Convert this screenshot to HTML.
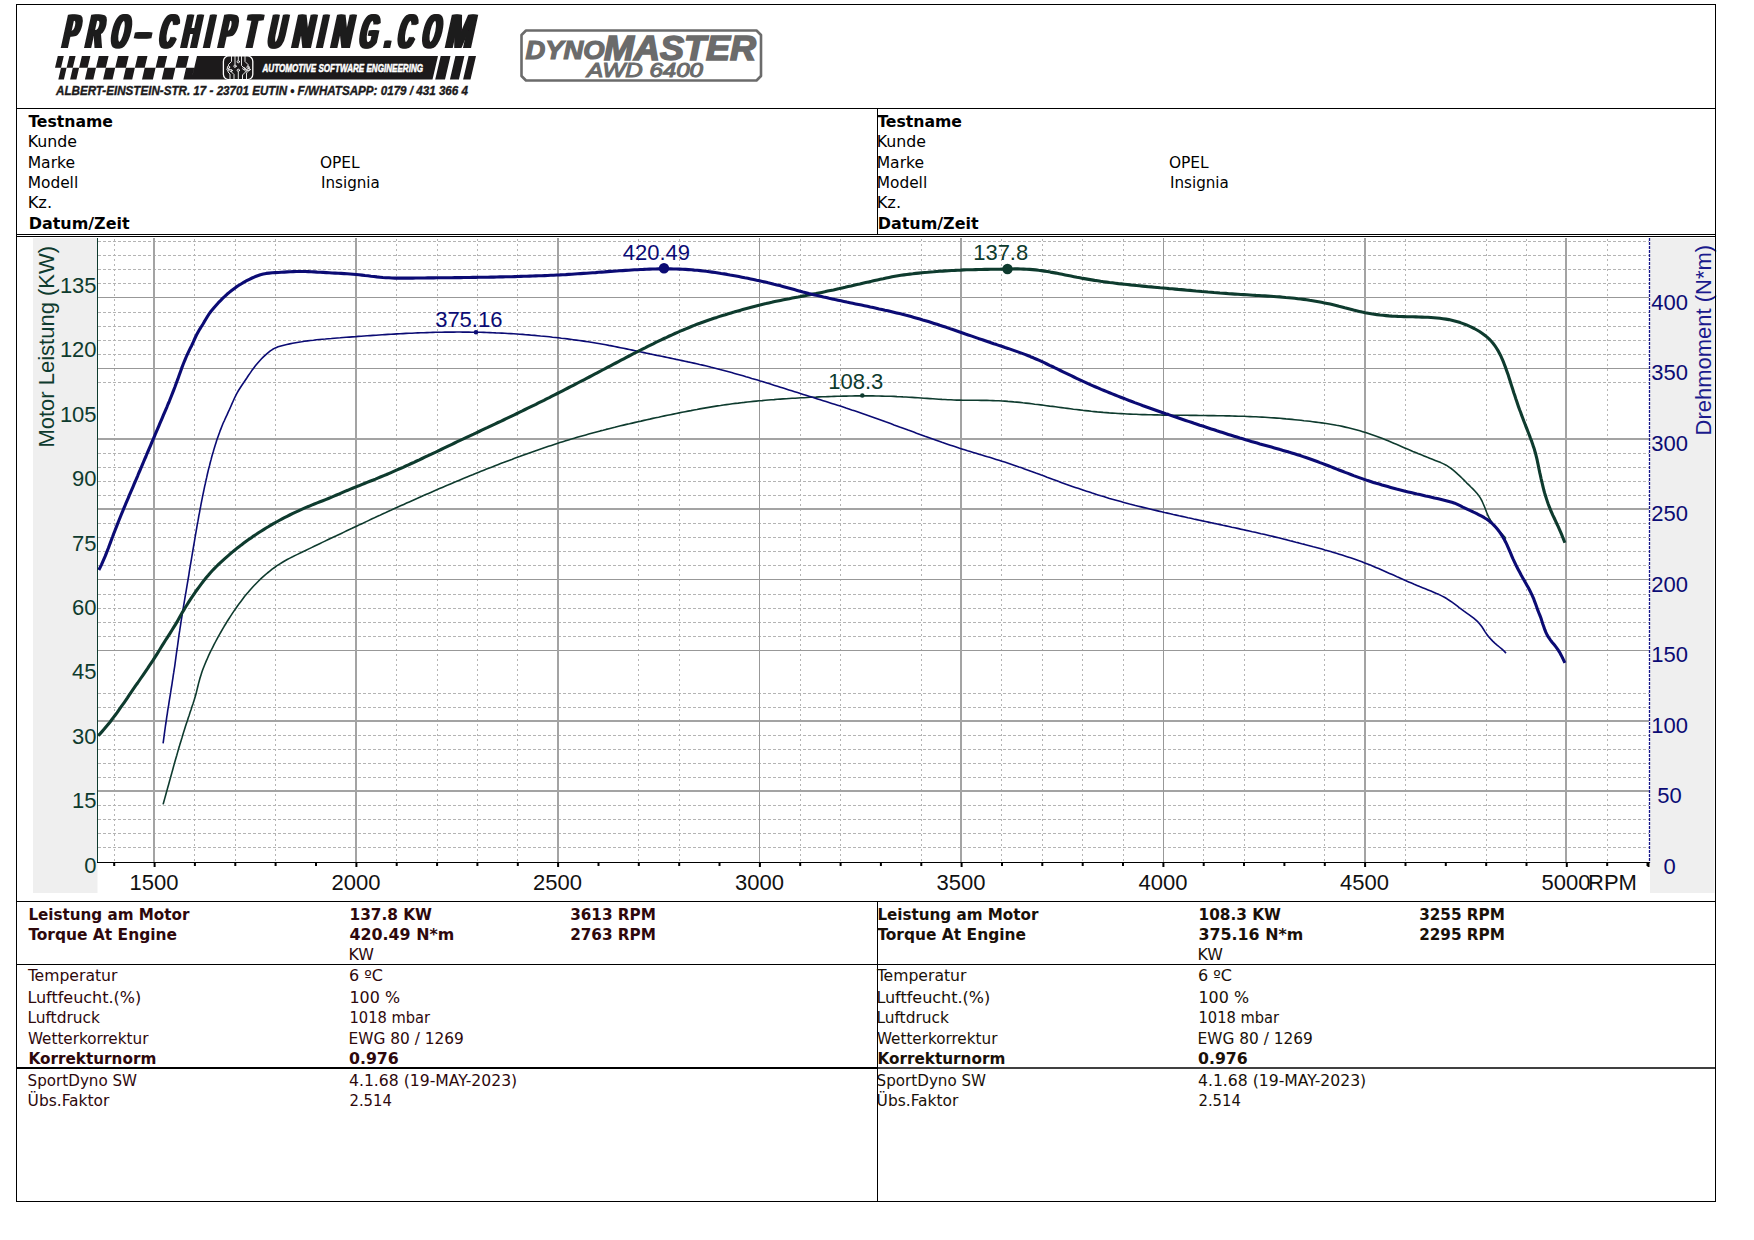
<!DOCTYPE html>
<html lang="de"><head><meta charset="utf-8"><title>Dyno Report</title>
<style>html,body{margin:0;padding:0;background:#fff}svg{display:block}.t{font-family:"DejaVu Sans Condensed","DejaVu Sans","Liberation Sans",sans-serif;font-size:15.5px}.b{font-weight:bold}.a{font-family:"Liberation Sans","DejaVu Sans",sans-serif}</style></head><body>
<svg width="1754" height="1240" viewBox="0 0 1754 1240">
<rect x="0" y="0" width="1754" height="1240" fill="#fff"/>
<g id="chart">
<rect x="33" y="238" width="64.5" height="655" fill="#efefef"/>
<rect x="1650" y="238" width="64.5" height="655" fill="#efefef"/>
<path d="M98.0 847.5H1648.5M98.0 833.5H1648.5M98.0 819.5H1648.5M98.0 805.5H1648.5M98.0 777.5H1648.5M98.0 763.5H1648.5M98.0 749.5H1648.5M98.0 735.5H1648.5M98.0 707.5H1648.5M98.0 693.5H1648.5M98.0 636.5H1648.5M98.0 622.5H1648.5M98.0 608.5H1648.5M98.0 594.5H1648.5M98.0 565.5H1648.5M98.0 551.5H1648.5M98.0 537.5H1648.5M98.0 523.5H1648.5M98.0 495.5H1648.5M98.0 481.5H1648.5M98.0 467.5H1648.5M98.0 453.5H1648.5M98.0 382.5H1648.5M98.0 354.5H1648.5M98.0 340.5H1648.5M98.0 326.5H1648.5M98.0 312.5H1648.5M98.0 283.5H1648.5M98.0 269.5H1648.5M98.0 255.5H1648.5M98.0 241.5H1648.5" stroke="#b4b4b4" stroke-width="1" stroke-dasharray="3 2" fill="none" shape-rendering="crispEdges"/>
<path d="M114.5 239.0V862.5M194.5 239.0V862.5M235.5 239.0V862.5M275.5 239.0V862.5M396.5 239.0V862.5M437.5 239.0V862.5M477.5 239.0V862.5M517.5 239.0V862.5M638.5 239.0V862.5M679.5 239.0V862.5M800.5 239.0V862.5M840.5 239.0V862.5M921.5 239.0V862.5M1001.5 239.0V862.5M1042.5 239.0V862.5M1082.5 239.0V862.5M1123.5 239.0V862.5M1203.5 239.0V862.5M1244.5 239.0V862.5M1324.5 239.0V862.5M1405.5 239.0V862.5M1486.5 239.0V862.5M1526.5 239.0V862.5M1607.5 239.0V862.5" stroke="#b4b4b4" stroke-width="1" stroke-dasharray="2 3" fill="none" shape-rendering="crispEdges"/>
<path d="M98.0 791.0H1648.5" stroke="#a3a3a3" stroke-width="2" fill="none" shape-rendering="crispEdges"/>
<path d="M98.0 721.0H1648.5" stroke="#a3a3a3" stroke-width="2" fill="none" shape-rendering="crispEdges"/>
<path d="M98.0 650.5H1648.5" stroke="#989898" stroke-width="1" fill="none" shape-rendering="crispEdges"/>
<path d="M98.0 579.5H1648.5" stroke="#989898" stroke-width="1" fill="none" shape-rendering="crispEdges"/>
<path d="M98.0 509.0H1648.5" stroke="#a3a3a3" stroke-width="2" fill="none" shape-rendering="crispEdges"/>
<path d="M98.0 439.0H1648.5" stroke="#a3a3a3" stroke-width="2" fill="none" shape-rendering="crispEdges"/>
<path d="M98.0 368.5H1648.5" stroke="#989898" stroke-width="1" fill="none" shape-rendering="crispEdges"/>
<path d="M98.0 297.5H1648.5" stroke="#989898" stroke-width="1" fill="none" shape-rendering="crispEdges"/>
<path d="M154.0 238.0V862.5" stroke="#a3a3a3" stroke-width="2" fill="none" shape-rendering="crispEdges"/>
<path d="M356.0 238.0V862.5" stroke="#a3a3a3" stroke-width="2" fill="none" shape-rendering="crispEdges"/>
<path d="M558.0 238.0V862.5" stroke="#a3a3a3" stroke-width="2" fill="none" shape-rendering="crispEdges"/>
<path d="M759.5 238.0V862.5" stroke="#989898" stroke-width="1" fill="none" shape-rendering="crispEdges"/>
<path d="M961.0 238.0V862.5" stroke="#a3a3a3" stroke-width="2" fill="none" shape-rendering="crispEdges"/>
<path d="M1163.5 238.0V862.5" stroke="#989898" stroke-width="1" fill="none" shape-rendering="crispEdges"/>
<path d="M1365.0 238.0V862.5" stroke="#a3a3a3" stroke-width="2" fill="none" shape-rendering="crispEdges"/>
<path d="M1566.0 238.0V862.5" stroke="#a3a3a3" stroke-width="2" fill="none" shape-rendering="crispEdges"/>
<path d="M163.1 804.4 L163.9 801.5 L164.7 798.6 L165.5 795.7 L166.3 792.8 L167.1 789.9 L167.9 787.0 L168.7 784.2 L169.5 781.3 L170.3 778.4 L171.1 775.5 L171.9 772.6 L172.7 769.7 L173.5 766.8 L174.3 763.9 L175.1 761.0 L175.9 758.2 L176.8 755.3 L177.6 752.4 L178.4 749.5 L179.3 746.6 L180.1 743.8 L181.0 740.9 L181.9 738.0 L182.7 735.2 L183.6 732.3 L184.5 729.4 L185.4 726.6 L186.3 723.7 L187.3 720.9 L188.2 718.0 L189.2 715.2 L190.1 712.3 L191.1 709.5 L192.0 706.6 L193.0 703.8 L193.9 700.9 L194.8 698.1 L195.6 695.2 L196.4 692.3 L197.1 689.4 L197.8 686.5 L198.5 683.6 L199.3 680.7 L200.1 677.8 L201.0 674.9 L201.9 672.1 L202.9 669.3 L204.0 666.5 L205.1 663.7 L206.3 660.9 L207.5 658.2 L208.7 655.4 L210.0 652.7 L211.3 650.0 L212.7 647.3 L214.0 644.7 L215.4 642.0 L216.8 639.4 L218.3 636.7 L219.7 634.1 L221.2 631.5 L222.7 628.9 L224.2 626.3 L225.8 623.8 L227.3 621.2 L228.9 618.7 L230.6 616.1 L232.2 613.6 L233.9 611.1 L235.6 608.7 L237.3 606.2 L239.1 603.8 L240.9 601.4 L242.7 599.0 L244.5 596.6 L246.4 594.3 L248.4 592.0 L250.3 589.7 L252.3 587.5 L254.4 585.3 L256.4 583.2 L258.6 581.0 L260.7 578.9 L262.9 576.9 L265.2 574.9 L267.4 573.0 L269.8 571.1 L272.1 569.2 L274.6 567.5 L277.0 565.7 L279.5 564.1 L282.1 562.5 L284.6 561.0 L287.2 559.5 L289.9 558.1 L292.6 556.8 L295.3 555.4 L298.0 554.1 L300.7 552.8 L303.4 551.5 L306.1 550.2 L308.8 548.9 L311.5 547.6 L314.2 546.3 L316.9 545.0 L319.6 543.7 L322.3 542.4 L325.0 541.1 L327.7 539.8 L330.4 538.5 L333.1 537.2 L335.8 536.0 L338.5 534.7 L341.3 533.4 L344.0 532.1 L346.7 530.8 L349.4 529.5 L352.1 528.3 L354.8 527.0 L357.5 525.7 L360.2 524.4 L363.0 523.2 L365.7 521.9 L368.4 520.6 L371.1 519.3 L373.8 518.1 L376.5 516.8 L379.3 515.6 L382.0 514.3 L384.7 513.1 L387.4 511.8 L390.2 510.6 L392.9 509.3 L395.6 508.1 L398.4 506.8 L401.1 505.6 L403.8 504.4 L406.6 503.1 L409.3 501.9 L412.0 500.7 L414.8 499.4 L417.5 498.2 L420.3 497.0 L423.0 495.8 L425.8 494.6 L428.5 493.4 L431.3 492.2 L434.0 491.0 L436.8 489.8 L439.5 488.6 L442.3 487.4 L445.0 486.2 L447.8 485.1 L450.5 483.9 L453.3 482.7 L456.1 481.6 L458.8 480.4 L461.6 479.2 L464.4 478.1 L467.1 476.9 L469.9 475.8 L472.7 474.7 L475.5 473.5 L478.2 472.4 L481.0 471.3 L483.8 470.2 L486.6 469.1 L489.4 468.0 L492.2 466.9 L495.0 465.8 L497.8 464.7 L500.6 463.6 L503.4 462.6 L506.2 461.5 L509.0 460.4 L511.8 459.4 L514.6 458.3 L517.4 457.3 L520.2 456.3 L523.0 455.2 L525.9 454.2 L528.7 453.2 L531.5 452.2 L534.3 451.2 L537.2 450.2 L540.0 449.2 L542.8 448.3 L545.7 447.3 L548.5 446.3 L551.4 445.4 L554.2 444.5 L557.1 443.5 L559.9 442.6 L562.8 441.7 L565.7 440.8 L568.5 439.9 L571.4 439.1 L574.3 438.2 L577.1 437.3 L580.0 436.5 L582.9 435.7 L585.8 434.9 L588.7 434.1 L591.6 433.3 L594.5 432.5 L597.4 431.7 L600.3 430.9 L603.2 430.2 L606.1 429.4 L609.0 428.7 L611.9 428.0 L614.8 427.3 L617.7 426.5 L620.6 425.8 L623.5 425.1 L626.4 424.4 L629.4 423.8 L632.3 423.1 L635.2 422.4 L638.1 421.7 L641.1 421.1 L644.0 420.4 L646.9 419.7 L649.8 419.1 L652.8 418.4 L655.7 417.8 L658.6 417.2 L661.6 416.5 L664.5 415.9 L667.4 415.3 L670.4 414.7 L673.3 414.1 L676.2 413.5 L679.2 412.9 L682.1 412.3 L685.1 411.7 L688.0 411.1 L691.0 410.6 L693.9 410.0 L696.9 409.5 L699.8 408.9 L702.8 408.4 L705.7 407.9 L708.7 407.4 L711.6 406.9 L714.6 406.4 L717.5 405.9 L720.5 405.5 L723.5 405.0 L726.4 404.6 L729.4 404.2 L732.4 403.8 L735.4 403.4 L738.3 403.1 L741.3 402.7 L744.3 402.4 L747.3 402.0 L750.2 401.7 L753.2 401.4 L756.2 401.1 L759.2 400.8 L762.2 400.6 L765.2 400.3 L768.2 400.0 L771.2 399.8 L774.1 399.6 L777.1 399.3 L780.1 399.1 L783.1 398.9 L786.1 398.7 L789.1 398.5 L792.1 398.3 L795.1 398.2 L798.1 398.0 L801.1 397.8 L804.1 397.7 L807.1 397.5 L810.1 397.3 L813.1 397.2 L816.1 397.1 L819.1 396.9 L822.1 396.8 L825.1 396.7 L828.1 396.6 L831.1 396.5 L834.1 396.4 L837.1 396.3 L840.1 396.2 L843.1 396.1 L846.1 396.1 L849.1 396.0 L852.0 396.0 L855.0 395.9 L858.0 395.9 L861.0 395.9 L864.0 395.9 L867.0 395.9 L870.0 395.9 L873.0 395.9 L876.0 396.0 L879.0 396.0 L882.0 396.1 L885.0 396.2 L888.0 396.2 L891.0 396.3 L894.0 396.4 L897.0 396.6 L900.0 396.7 L903.0 396.9 L906.0 397.0 L909.0 397.2 L912.0 397.4 L915.0 397.6 L918.0 397.8 L921.0 398.0 L924.0 398.2 L927.0 398.4 L929.9 398.6 L932.9 398.8 L935.9 399.0 L938.9 399.2 L941.9 399.4 L944.9 399.5 L947.9 399.7 L950.9 399.8 L953.9 400.0 L956.9 400.1 L959.9 400.1 L962.9 400.2 L965.9 400.2 L968.9 400.3 L971.9 400.3 L974.9 400.3 L977.9 400.3 L980.9 400.4 L983.9 400.4 L986.9 400.4 L989.9 400.5 L992.9 400.6 L995.9 400.7 L998.9 400.8 L1001.9 401.0 L1004.9 401.1 L1007.9 401.4 L1010.8 401.6 L1013.8 401.9 L1016.8 402.1 L1019.8 402.4 L1022.8 402.8 L1025.8 403.1 L1028.8 403.4 L1031.7 403.8 L1034.7 404.2 L1037.7 404.5 L1040.7 404.9 L1043.6 405.3 L1046.6 405.7 L1049.6 406.1 L1052.6 406.4 L1055.5 406.8 L1058.5 407.2 L1061.5 407.6 L1064.4 408.0 L1067.4 408.4 L1070.4 408.8 L1073.4 409.2 L1076.4 409.5 L1079.3 409.9 L1082.3 410.3 L1085.3 410.6 L1088.3 410.9 L1091.3 411.3 L1094.2 411.6 L1097.2 411.9 L1100.2 412.1 L1103.2 412.4 L1106.2 412.6 L1109.2 412.9 L1112.2 413.1 L1115.2 413.3 L1118.1 413.5 L1121.1 413.6 L1124.1 413.8 L1127.1 414.0 L1130.1 414.1 L1133.1 414.2 L1136.1 414.3 L1139.1 414.5 L1142.1 414.6 L1145.1 414.6 L1148.1 414.7 L1151.1 414.8 L1154.1 414.9 L1157.1 414.9 L1160.1 415.0 L1163.1 415.1 L1166.1 415.1 L1169.1 415.1 L1172.1 415.2 L1175.1 415.2 L1178.1 415.3 L1181.1 415.3 L1184.1 415.3 L1187.1 415.3 L1190.1 415.4 L1193.1 415.4 L1196.1 415.4 L1199.1 415.5 L1202.1 415.5 L1205.1 415.5 L1208.1 415.6 L1211.1 415.6 L1214.1 415.6 L1217.1 415.7 L1220.1 415.7 L1223.1 415.8 L1226.1 415.9 L1229.1 415.9 L1232.1 416.0 L1235.1 416.1 L1238.1 416.2 L1241.1 416.2 L1244.1 416.3 L1247.1 416.5 L1250.1 416.6 L1253.1 416.7 L1256.0 416.8 L1259.0 417.0 L1262.0 417.1 L1265.0 417.3 L1268.0 417.5 L1271.0 417.7 L1274.0 417.9 L1277.0 418.1 L1280.0 418.3 L1283.0 418.6 L1286.0 418.9 L1289.0 419.1 L1292.0 419.4 L1294.9 419.7 L1297.9 420.0 L1300.9 420.3 L1303.9 420.7 L1306.9 421.0 L1309.9 421.3 L1312.8 421.7 L1315.8 422.1 L1318.8 422.5 L1321.7 422.9 L1324.7 423.3 L1327.7 423.7 L1330.6 424.2 L1333.6 424.7 L1336.5 425.3 L1339.5 425.8 L1342.4 426.4 L1345.3 427.1 L1348.3 427.8 L1351.2 428.5 L1354.1 429.2 L1357.0 430.0 L1359.9 430.8 L1362.7 431.7 L1365.6 432.6 L1368.5 433.5 L1371.3 434.4 L1374.2 435.4 L1377.0 436.4 L1379.8 437.5 L1382.6 438.6 L1385.4 439.7 L1388.1 440.8 L1390.9 442.0 L1393.7 443.2 L1396.4 444.3 L1399.2 445.5 L1401.9 446.7 L1404.7 447.9 L1407.4 449.1 L1410.2 450.2 L1412.9 451.4 L1415.7 452.5 L1418.5 453.7 L1421.3 454.8 L1424.0 455.9 L1426.8 457.1 L1429.6 458.2 L1432.4 459.3 L1435.2 460.4 L1438.0 461.5 L1440.8 462.6 L1443.5 463.9 L1446.2 465.2 L1448.7 466.8 L1451.2 468.5 L1453.5 470.3 L1455.8 472.3 L1458.0 474.4 L1460.2 476.4 L1462.4 478.5 L1464.5 480.6 L1466.6 482.8 L1468.8 484.9 L1470.9 487.0 L1473.1 489.1 L1475.1 491.3 L1477.1 493.6 L1479.0 495.9 L1480.6 498.4 L1482.0 501.0 L1483.2 503.7 L1484.4 506.5 L1485.5 509.3 L1486.6 512.2 L1487.7 514.9 L1489.0 517.6 L1490.5 520.2 L1492.1 522.7 L1493.9 525.1 L1495.9 527.4 L1497.9 529.7 L1499.9 531.9 L1502.0 534.1 L1504.0 536.3 L1506.0 538.5" stroke="#0e3b2e" stroke-width="1.6" fill="none" stroke-linejoin="round"/>
<path d="M163.1 743.3 L163.5 740.3 L163.9 737.4 L164.3 734.4 L164.7 731.4 L165.1 728.5 L165.5 725.5 L166.0 722.5 L166.4 719.6 L166.8 716.6 L167.3 713.6 L167.7 710.7 L168.2 707.7 L168.7 704.8 L169.1 701.8 L169.6 698.9 L170.1 695.9 L170.6 692.9 L171.0 690.0 L171.5 687.0 L172.0 684.1 L172.4 681.1 L172.9 678.1 L173.3 675.2 L173.8 672.2 L174.2 669.3 L174.7 666.3 L175.1 663.3 L175.5 660.4 L175.9 657.4 L176.3 654.4 L176.7 651.5 L177.2 648.5 L177.6 645.5 L178.0 642.6 L178.4 639.6 L178.8 636.6 L179.2 633.7 L179.7 630.7 L180.1 627.8 L180.6 624.8 L181.0 621.8 L181.5 618.9 L182.0 615.9 L182.4 613.0 L182.9 610.0 L183.4 607.1 L183.9 604.1 L184.4 601.2 L184.9 598.2 L185.4 595.2 L185.9 592.3 L186.4 589.3 L186.9 586.4 L187.4 583.4 L187.9 580.5 L188.4 577.5 L188.9 574.6 L189.3 571.6 L189.8 568.7 L190.3 565.7 L190.8 562.8 L191.3 559.8 L191.8 556.8 L192.3 553.9 L192.8 550.9 L193.3 548.0 L193.8 545.0 L194.3 542.1 L194.8 539.1 L195.3 536.2 L195.8 533.2 L196.3 530.3 L196.8 527.3 L197.3 524.4 L197.9 521.4 L198.4 518.5 L198.9 515.5 L199.5 512.6 L200.0 509.6 L200.6 506.7 L201.1 503.8 L201.7 500.8 L202.3 497.9 L202.9 494.9 L203.5 492.0 L204.1 489.1 L204.7 486.1 L205.4 483.2 L206.0 480.3 L206.7 477.4 L207.3 474.5 L208.0 471.5 L208.7 468.6 L209.5 465.7 L210.2 462.8 L211.0 459.9 L211.7 457.0 L212.5 454.2 L213.4 451.3 L214.2 448.4 L215.1 445.5 L216.0 442.7 L216.9 439.8 L217.9 437.0 L218.9 434.2 L219.9 431.4 L221.0 428.6 L222.1 425.8 L223.2 423.0 L224.5 420.3 L225.7 417.6 L227.0 414.9 L228.2 412.1 L229.5 409.4 L230.7 406.7 L231.9 403.9 L233.1 401.2 L234.3 398.5 L235.6 395.8 L237.0 393.1 L238.5 390.5 L240.1 388.0 L241.7 385.5 L243.4 383.0 L245.1 380.5 L246.8 378.0 L248.4 375.5 L250.1 373.1 L251.8 370.6 L253.6 368.2 L255.4 365.8 L257.3 363.5 L259.3 361.2 L261.3 359.0 L263.4 356.9 L265.6 354.8 L267.9 352.8 L270.3 350.9 L272.7 349.3 L275.4 347.9 L278.1 346.8 L280.9 346.0 L283.8 345.2 L286.8 344.5 L289.7 343.9 L292.6 343.3 L295.6 342.7 L298.6 342.2 L301.5 341.8 L304.5 341.3 L307.5 340.9 L310.4 340.5 L313.4 340.2 L316.4 339.8 L319.4 339.5 L322.4 339.2 L325.3 339.0 L328.3 338.7 L331.3 338.5 L334.3 338.2 L337.3 338.0 L340.2 337.8 L343.2 337.5 L346.2 337.3 L349.2 337.1 L352.2 336.9 L355.2 336.7 L358.1 336.4 L361.1 336.2 L364.1 336.0 L367.1 335.8 L370.1 335.6 L373.1 335.4 L376.1 335.2 L379.1 335.0 L382.1 334.8 L385.0 334.6 L388.0 334.4 L391.0 334.3 L394.0 334.1 L397.0 333.9 L400.0 333.8 L403.0 333.6 L406.0 333.4 L409.0 333.3 L412.0 333.2 L415.0 333.0 L417.9 332.9 L420.9 332.8 L423.9 332.7 L426.9 332.6 L429.9 332.5 L432.9 332.4 L435.9 332.3 L438.9 332.3 L441.9 332.2 L444.9 332.1 L447.9 332.1 L450.9 332.1 L453.9 332.1 L456.9 332.0 L459.9 332.0 L462.9 332.1 L465.9 332.1 L468.8 332.1 L471.8 332.2 L474.8 332.2 L477.8 332.3 L480.8 332.3 L483.8 332.4 L486.8 332.5 L489.8 332.6 L492.8 332.7 L495.8 332.9 L498.8 333.0 L501.8 333.1 L504.8 333.3 L507.7 333.5 L510.7 333.6 L513.7 333.8 L516.7 334.0 L519.7 334.2 L522.7 334.4 L525.7 334.7 L528.7 334.9 L531.6 335.2 L534.6 335.4 L537.6 335.7 L540.6 336.0 L543.6 336.2 L546.6 336.5 L549.5 336.8 L552.5 337.2 L555.5 337.5 L558.5 337.8 L561.4 338.2 L564.4 338.5 L567.4 338.9 L570.3 339.3 L573.3 339.7 L576.3 340.1 L579.3 340.5 L582.2 340.9 L585.2 341.4 L588.1 341.8 L591.1 342.3 L594.0 342.8 L597.0 343.3 L600.0 343.8 L602.9 344.3 L605.8 344.8 L608.8 345.4 L611.7 345.9 L614.7 346.5 L617.6 347.1 L620.5 347.7 L623.5 348.3 L626.4 348.9 L629.3 349.5 L632.3 350.1 L635.2 350.7 L638.1 351.4 L641.1 352.0 L644.0 352.6 L646.9 353.2 L649.9 353.9 L652.8 354.5 L655.7 355.1 L658.7 355.7 L661.6 356.3 L664.5 356.9 L667.4 357.5 L670.4 358.1 L673.3 358.7 L676.2 359.4 L679.2 360.0 L682.1 360.6 L685.0 361.2 L688.0 361.9 L690.9 362.5 L693.8 363.1 L696.7 363.8 L699.6 364.5 L702.6 365.1 L705.5 365.8 L708.4 366.5 L711.3 367.3 L714.2 368.0 L717.1 368.7 L720.0 369.5 L722.9 370.2 L725.8 371.0 L728.7 371.8 L731.6 372.6 L734.5 373.4 L737.3 374.2 L740.2 375.0 L743.1 375.8 L746.0 376.7 L748.9 377.5 L751.7 378.4 L754.6 379.2 L757.5 380.1 L760.3 381.0 L763.2 381.8 L766.1 382.7 L768.9 383.6 L771.8 384.5 L774.6 385.4 L777.5 386.3 L780.3 387.2 L783.2 388.1 L786.1 389.0 L788.9 389.9 L791.8 390.8 L794.6 391.7 L797.5 392.6 L800.3 393.5 L803.2 394.4 L806.0 395.3 L808.9 396.2 L811.8 397.1 L814.6 398.0 L817.5 398.9 L820.3 399.8 L823.2 400.7 L826.0 401.6 L828.9 402.5 L831.8 403.4 L834.6 404.3 L837.5 405.2 L840.3 406.1 L843.2 407.0 L846.0 408.0 L848.9 408.9 L851.7 409.9 L854.5 410.8 L857.4 411.8 L860.2 412.7 L863.0 413.7 L865.9 414.7 L868.7 415.7 L871.5 416.7 L874.3 417.7 L877.2 418.7 L880.0 419.7 L882.8 420.7 L885.6 421.8 L888.4 422.8 L891.2 423.8 L894.0 424.9 L896.8 425.9 L899.6 427.0 L902.5 428.0 L905.3 429.0 L908.1 430.1 L910.9 431.1 L913.7 432.1 L916.5 433.2 L919.3 434.2 L922.1 435.2 L924.9 436.3 L927.8 437.3 L930.6 438.3 L933.4 439.3 L936.2 440.3 L939.1 441.3 L941.9 442.3 L944.7 443.2 L947.5 444.2 L950.4 445.2 L953.2 446.1 L956.1 447.0 L958.9 448.0 L961.8 448.9 L964.6 449.8 L967.5 450.7 L970.3 451.5 L973.2 452.4 L976.1 453.3 L978.9 454.2 L981.8 455.0 L984.7 455.9 L987.5 456.8 L990.4 457.6 L993.3 458.5 L996.1 459.4 L999.0 460.3 L1001.8 461.2 L1004.7 462.1 L1007.5 463.0 L1010.4 464.0 L1013.2 464.9 L1016.1 465.9 L1018.9 466.9 L1021.7 467.8 L1024.5 468.9 L1027.4 469.9 L1030.2 470.9 L1033.0 471.9 L1035.8 473.0 L1038.6 474.0 L1041.4 475.1 L1044.2 476.1 L1047.0 477.2 L1049.8 478.2 L1052.6 479.3 L1055.4 480.3 L1058.2 481.3 L1061.1 482.4 L1063.9 483.4 L1066.7 484.4 L1069.5 485.4 L1072.3 486.4 L1075.2 487.4 L1078.0 488.3 L1080.8 489.3 L1083.7 490.3 L1086.5 491.2 L1089.4 492.1 L1092.2 493.1 L1095.1 494.0 L1097.9 494.9 L1100.8 495.8 L1103.6 496.6 L1106.5 497.5 L1109.4 498.4 L1112.3 499.2 L1115.1 500.0 L1118.0 500.8 L1120.9 501.6 L1123.8 502.4 L1126.7 503.2 L1129.6 504.0 L1132.5 504.7 L1135.4 505.5 L1138.3 506.2 L1141.2 506.9 L1144.1 507.6 L1147.0 508.3 L1149.9 509.0 L1152.8 509.7 L1155.7 510.4 L1158.7 511.1 L1161.6 511.8 L1164.5 512.5 L1167.4 513.1 L1170.3 513.8 L1173.3 514.5 L1176.2 515.1 L1179.1 515.8 L1182.0 516.4 L1185.0 517.0 L1187.9 517.7 L1190.8 518.3 L1193.7 519.0 L1196.7 519.6 L1199.6 520.2 L1202.5 520.9 L1205.4 521.5 L1208.4 522.1 L1211.3 522.7 L1214.2 523.4 L1217.2 524.0 L1220.1 524.6 L1223.0 525.3 L1225.9 525.9 L1228.9 526.5 L1231.8 527.2 L1234.7 527.8 L1237.6 528.4 L1240.6 529.1 L1243.5 529.7 L1246.4 530.4 L1249.3 531.0 L1252.3 531.7 L1255.2 532.3 L1258.1 533.0 L1261.0 533.7 L1263.9 534.3 L1266.9 535.0 L1269.8 535.7 L1272.7 536.4 L1275.6 537.1 L1278.5 537.8 L1281.4 538.5 L1284.3 539.2 L1287.2 539.9 L1290.1 540.7 L1293.0 541.4 L1295.9 542.2 L1298.8 542.9 L1301.7 543.7 L1304.6 544.4 L1307.5 545.2 L1310.4 546.0 L1313.3 546.8 L1316.2 547.5 L1319.1 548.3 L1322.0 549.1 L1324.9 550.0 L1327.7 550.8 L1330.6 551.6 L1333.5 552.5 L1336.4 553.3 L1339.2 554.2 L1342.1 555.1 L1344.9 556.0 L1347.8 556.9 L1350.6 557.8 L1353.5 558.8 L1356.3 559.8 L1359.1 560.8 L1361.9 561.8 L1364.7 562.9 L1367.5 564.0 L1370.3 565.1 L1373.0 566.2 L1375.8 567.4 L1378.6 568.6 L1381.3 569.8 L1384.1 571.0 L1386.8 572.2 L1389.5 573.4 L1392.3 574.6 L1395.0 575.8 L1397.7 577.1 L1400.5 578.3 L1403.2 579.5 L1406.0 580.7 L1408.7 581.9 L1411.5 583.1 L1414.2 584.3 L1417.0 585.4 L1419.7 586.6 L1422.5 587.7 L1425.3 588.8 L1428.1 589.9 L1430.9 591.0 L1433.6 592.2 L1436.4 593.4 L1439.1 594.6 L1441.7 595.9 L1444.4 597.3 L1447.0 598.8 L1449.5 600.5 L1452.0 602.2 L1454.4 603.9 L1456.8 605.7 L1459.2 607.6 L1461.6 609.4 L1464.0 611.2 L1466.4 612.9 L1468.9 614.6 L1471.3 616.4 L1473.7 618.2 L1476.0 620.1 L1478.2 622.2 L1480.1 624.4 L1481.9 626.8 L1483.5 629.3 L1485.1 631.9 L1486.8 634.3 L1488.6 636.7 L1490.6 638.9 L1492.7 641.1 L1494.8 643.1 L1497.1 645.1 L1499.4 647.0 L1501.7 648.9 L1503.9 650.9 L1506.0 653.1" stroke="#0b0b74" stroke-width="1.6" fill="none" stroke-linejoin="round"/>
<path d="M98.1 735.8 L100.2 733.6 L102.2 731.4 L104.2 729.1 L106.1 726.8 L108.0 724.5 L109.9 722.2 L111.7 719.8 L113.5 717.4 L115.3 715.0 L117.1 712.6 L118.8 710.1 L120.5 707.7 L122.3 705.2 L124.0 702.8 L125.7 700.3 L127.4 697.8 L129.0 695.3 L130.7 692.9 L132.4 690.4 L134.1 687.9 L135.8 685.4 L137.6 683.0 L139.3 680.5 L141.0 678.0 L142.7 675.6 L144.4 673.1 L146.1 670.6 L147.8 668.2 L149.4 665.7 L151.1 663.2 L152.8 660.7 L154.4 658.2 L156.0 655.6 L157.6 653.1 L159.2 650.5 L160.7 648.0 L162.3 645.4 L163.9 642.9 L165.5 640.3 L167.1 637.8 L168.7 635.3 L170.3 632.8 L171.9 630.2 L173.5 627.7 L175.1 625.1 L176.6 622.6 L178.1 620.0 L179.6 617.3 L181.0 614.7 L182.5 612.1 L184.1 609.6 L185.6 607.0 L187.2 604.5 L188.8 601.9 L190.4 599.4 L192.1 596.9 L193.8 594.4 L195.5 591.9 L197.2 589.5 L199.0 587.1 L200.8 584.6 L202.6 582.3 L204.4 579.9 L206.3 577.6 L208.3 575.3 L210.2 573.0 L212.2 570.8 L214.3 568.6 L216.4 566.5 L218.5 564.4 L220.7 562.3 L222.9 560.3 L225.1 558.3 L227.4 556.3 L229.7 554.3 L232.0 552.4 L234.3 550.5 L236.6 548.6 L239.0 546.8 L241.4 544.9 L243.8 543.1 L246.2 541.3 L248.6 539.6 L251.1 537.9 L253.5 536.1 L256.0 534.5 L258.5 532.8 L261.0 531.2 L263.6 529.6 L266.1 528.0 L268.7 526.5 L271.3 524.9 L273.9 523.4 L276.5 522.0 L279.1 520.5 L281.7 519.1 L284.4 517.7 L287.1 516.3 L289.7 515.0 L292.4 513.6 L295.1 512.3 L297.9 511.1 L300.6 509.8 L303.3 508.6 L306.1 507.4 L308.9 506.3 L311.6 505.1 L314.4 504.0 L317.2 502.9 L320.0 501.8 L322.8 500.7 L325.6 499.6 L328.4 498.5 L331.1 497.4 L333.9 496.2 L336.6 495.0 L339.4 493.8 L342.1 492.6 L344.9 491.4 L347.7 490.3 L350.4 489.1 L353.2 488.0 L356.0 486.9 L358.8 485.8 L361.6 484.6 L364.4 483.5 L367.1 482.4 L369.9 481.3 L372.7 480.2 L375.5 479.1 L378.3 477.9 L381.0 476.8 L383.8 475.6 L386.6 474.5 L389.3 473.3 L392.1 472.1 L394.8 470.9 L397.6 469.7 L400.3 468.5 L403.1 467.3 L405.8 466.0 L408.5 464.8 L411.3 463.5 L414.0 462.3 L416.7 461.0 L419.4 459.8 L422.1 458.5 L424.8 457.2 L427.6 455.9 L430.3 454.6 L433.0 453.3 L435.7 452.1 L438.4 450.8 L441.1 449.5 L443.8 448.2 L446.5 446.9 L449.2 445.6 L451.9 444.3 L454.6 443.0 L457.3 441.7 L460.1 440.4 L462.8 439.2 L465.5 437.9 L468.2 436.6 L470.9 435.3 L473.6 434.1 L476.3 432.8 L479.1 431.5 L481.8 430.2 L484.5 428.9 L487.2 427.7 L489.9 426.4 L492.6 425.1 L495.3 423.8 L498.0 422.5 L500.7 421.3 L503.5 420.0 L506.2 418.7 L508.9 417.4 L511.6 416.1 L514.3 414.8 L517.0 413.5 L519.7 412.2 L522.4 410.9 L525.1 409.5 L527.8 408.2 L530.5 406.9 L533.2 405.6 L535.9 404.3 L538.5 402.9 L541.2 401.6 L543.9 400.3 L546.6 398.9 L549.3 397.6 L552.0 396.2 L554.6 394.9 L557.3 393.5 L560.0 392.1 L562.6 390.8 L565.3 389.4 L568.0 388.0 L570.6 386.7 L573.3 385.3 L576.0 383.9 L578.6 382.5 L581.3 381.1 L583.9 379.8 L586.6 378.4 L589.3 377.0 L591.9 375.6 L594.6 374.2 L597.2 372.8 L599.9 371.4 L602.5 370.0 L605.2 368.6 L607.8 367.2 L610.5 365.8 L613.1 364.4 L615.8 363.0 L618.5 361.6 L621.1 360.2 L623.8 358.8 L626.4 357.4 L629.1 356.0 L631.7 354.6 L634.4 353.2 L637.1 351.9 L639.7 350.5 L642.4 349.1 L645.1 347.8 L647.8 346.4 L650.5 345.1 L653.2 343.8 L655.8 342.4 L658.5 341.1 L661.2 339.8 L664.0 338.5 L666.7 337.3 L669.4 336.0 L672.1 334.8 L674.9 333.5 L677.6 332.3 L680.3 331.1 L683.1 330.0 L685.9 328.8 L688.6 327.7 L691.4 326.5 L694.2 325.4 L697.0 324.3 L699.8 323.3 L702.6 322.2 L705.4 321.2 L708.2 320.2 L711.1 319.3 L713.9 318.3 L716.8 317.4 L719.7 316.4 L722.5 315.5 L725.4 314.7 L728.3 313.8 L731.1 312.9 L734.0 312.1 L736.9 311.2 L739.8 310.4 L742.7 309.6 L745.6 308.8 L748.5 308.0 L751.3 307.2 L754.2 306.4 L757.1 305.7 L760.0 305.0 L763.0 304.2 L765.9 303.6 L768.8 302.9 L771.7 302.3 L774.7 301.6 L777.6 301.0 L780.5 300.4 L783.5 299.8 L786.4 299.2 L789.4 298.7 L792.3 298.1 L795.3 297.5 L798.2 297.0 L801.2 296.4 L804.1 295.9 L807.0 295.3 L810.0 294.7 L812.9 294.1 L815.9 293.6 L818.8 293.0 L821.8 292.4 L824.7 291.8 L827.6 291.1 L830.6 290.5 L833.5 289.9 L836.4 289.2 L839.4 288.6 L842.3 287.9 L845.2 287.3 L848.1 286.6 L851.1 286.0 L854.0 285.3 L856.9 284.6 L859.8 284.0 L862.7 283.3 L865.7 282.6 L868.6 281.9 L871.5 281.3 L874.5 280.6 L877.4 279.9 L880.3 279.3 L883.2 278.7 L886.2 278.0 L889.1 277.4 L892.1 276.8 L895.0 276.3 L898.0 275.8 L900.9 275.3 L903.9 274.9 L906.9 274.5 L909.8 274.1 L912.8 273.8 L915.8 273.4 L918.8 273.1 L921.7 272.8 L924.7 272.5 L927.7 272.3 L930.7 272.0 L933.7 271.8 L936.7 271.5 L939.7 271.3 L942.7 271.1 L945.7 270.9 L948.7 270.7 L951.7 270.5 L954.7 270.4 L957.7 270.2 L960.7 270.1 L963.7 269.9 L966.7 269.8 L969.7 269.7 L972.6 269.7 L975.6 269.6 L978.6 269.5 L981.6 269.5 L984.6 269.4 L987.6 269.4 L990.6 269.3 L993.6 269.3 L996.6 269.3 L999.6 269.2 L1002.6 269.1 L1005.6 269.1 L1008.6 269.0 L1011.6 269.0 L1014.7 268.9 L1017.7 268.9 L1020.7 269.0 L1023.7 269.1 L1026.6 269.2 L1029.6 269.4 L1032.6 269.6 L1035.6 269.9 L1038.6 270.3 L1041.5 270.6 L1044.5 271.1 L1047.4 271.5 L1050.4 272.1 L1053.3 272.6 L1056.3 273.1 L1059.2 273.7 L1062.2 274.3 L1065.1 274.9 L1068.1 275.5 L1071.0 276.1 L1074.0 276.7 L1076.9 277.3 L1079.9 277.8 L1082.8 278.4 L1085.8 278.9 L1088.7 279.4 L1091.7 279.9 L1094.6 280.4 L1097.6 280.8 L1100.6 281.3 L1103.5 281.7 L1106.5 282.1 L1109.5 282.5 L1112.5 282.8 L1115.4 283.2 L1118.4 283.6 L1121.4 283.9 L1124.4 284.2 L1127.3 284.5 L1130.3 284.9 L1133.3 285.2 L1136.3 285.5 L1139.3 285.8 L1142.3 286.1 L1145.3 286.4 L1148.2 286.7 L1151.2 286.9 L1154.2 287.2 L1157.2 287.5 L1160.2 287.8 L1163.2 288.0 L1166.2 288.3 L1169.1 288.6 L1172.1 288.8 L1175.1 289.1 L1178.1 289.4 L1181.1 289.6 L1184.1 289.9 L1187.1 290.2 L1190.1 290.4 L1193.1 290.7 L1196.0 291.0 L1199.0 291.2 L1202.0 291.5 L1205.0 291.7 L1208.0 292.0 L1211.0 292.2 L1214.0 292.5 L1217.0 292.7 L1219.9 293.0 L1222.9 293.2 L1225.9 293.4 L1228.9 293.7 L1231.9 293.9 L1234.9 294.1 L1237.9 294.3 L1240.9 294.5 L1243.9 294.6 L1246.9 294.8 L1249.9 295.0 L1252.9 295.2 L1255.9 295.4 L1258.9 295.5 L1261.9 295.7 L1264.8 295.9 L1267.8 296.1 L1270.8 296.3 L1273.8 296.5 L1276.8 296.7 L1279.8 296.9 L1282.8 297.2 L1285.8 297.5 L1288.8 297.7 L1291.8 298.0 L1294.7 298.3 L1297.7 298.7 L1300.7 299.0 L1303.7 299.4 L1306.6 299.8 L1309.6 300.3 L1312.6 300.7 L1315.5 301.2 L1318.5 301.7 L1321.4 302.3 L1324.4 302.9 L1327.3 303.5 L1330.2 304.1 L1333.2 304.7 L1336.1 305.4 L1339.0 306.2 L1341.9 306.9 L1344.8 307.7 L1347.7 308.4 L1350.6 309.2 L1353.5 310.0 L1356.4 310.7 L1359.3 311.4 L1362.3 312.1 L1365.2 312.7 L1368.1 313.2 L1371.1 313.7 L1374.1 314.2 L1377.0 314.6 L1380.0 315.0 L1383.0 315.3 L1386.0 315.6 L1389.0 315.9 L1392.0 316.1 L1395.0 316.2 L1398.0 316.4 L1401.0 316.5 L1403.9 316.6 L1406.9 316.7 L1409.9 316.7 L1412.9 316.8 L1415.9 316.9 L1418.9 317.0 L1421.9 317.1 L1424.9 317.2 L1427.9 317.3 L1431.0 317.5 L1434.0 317.7 L1437.0 318.0 L1439.9 318.3 L1442.9 318.7 L1445.9 319.1 L1448.8 319.6 L1451.7 320.2 L1454.6 320.9 L1457.5 321.7 L1460.3 322.6 L1463.1 323.6 L1465.9 324.7 L1468.7 325.9 L1471.4 327.1 L1474.2 328.5 L1476.9 330.0 L1479.5 331.5 L1482.0 333.2 L1484.4 335.0 L1486.8 336.9 L1489.0 338.9 L1491.1 341.0 L1493.0 343.2 L1494.8 345.6 L1496.4 348.0 L1498.0 350.6 L1499.4 353.2 L1500.8 355.9 L1502.0 358.6 L1503.2 361.4 L1504.3 364.2 L1505.4 367.1 L1506.4 369.9 L1507.4 372.8 L1508.4 375.6 L1509.3 378.5 L1510.2 381.3 L1511.1 384.2 L1512.0 387.0 L1512.9 389.8 L1513.8 392.7 L1514.8 395.5 L1515.7 398.4 L1516.7 401.2 L1517.6 404.0 L1518.6 406.9 L1519.6 409.7 L1520.7 412.5 L1521.7 415.4 L1522.8 418.2 L1523.8 421.0 L1524.9 423.8 L1526.0 426.6 L1527.1 429.4 L1528.2 432.2 L1529.3 435.0 L1530.3 437.8 L1531.4 440.6 L1532.4 443.4 L1533.3 446.2 L1534.3 449.1 L1535.1 452.0 L1535.9 454.8 L1536.6 457.7 L1537.3 460.7 L1537.9 463.6 L1538.5 466.5 L1539.1 469.5 L1539.7 472.4 L1540.4 475.4 L1541.0 478.3 L1541.7 481.2 L1542.4 484.1 L1543.1 487.1 L1543.8 490.0 L1544.6 492.9 L1545.5 495.7 L1546.4 498.6 L1547.3 501.4 L1548.3 504.3 L1549.4 507.1 L1550.5 509.8 L1551.7 512.6 L1552.9 515.3 L1554.2 518.0 L1555.4 520.7 L1556.7 523.5 L1558.0 526.2 L1559.2 528.9 L1560.4 531.7 L1561.6 534.4 L1562.7 537.2 L1563.8 540.0 L1564.9 542.8" stroke="#0e3b2e" stroke-width="3.1" fill="none" stroke-linejoin="round"/>
<path d="M98.8 570.0 L100.2 567.3 L101.5 564.6 L102.7 561.9 L103.9 559.1 L105.1 556.4 L106.2 553.6 L107.3 550.8 L108.4 548.0 L109.4 545.2 L110.5 542.4 L111.5 539.6 L112.6 536.8 L113.6 534.0 L114.7 531.2 L115.8 528.4 L116.9 525.6 L118.0 522.8 L119.1 520.0 L120.2 517.2 L121.3 514.5 L122.5 511.7 L123.6 508.9 L124.8 506.2 L125.9 503.4 L127.1 500.6 L128.3 497.9 L129.4 495.1 L130.6 492.3 L131.8 489.6 L133.0 486.8 L134.1 484.1 L135.3 481.3 L136.5 478.6 L137.7 475.8 L138.8 473.0 L140.0 470.3 L141.2 467.5 L142.3 464.8 L143.5 462.0 L144.7 459.2 L145.9 456.5 L147.0 453.7 L148.2 451.0 L149.4 448.2 L150.6 445.4 L151.7 442.7 L152.9 439.9 L154.1 437.2 L155.2 434.4 L156.4 431.6 L157.6 428.9 L158.8 426.1 L159.9 423.4 L161.1 420.6 L162.3 417.8 L163.4 415.1 L164.6 412.3 L165.8 409.6 L167.0 406.8 L168.1 404.0 L169.3 401.3 L170.4 398.5 L171.5 395.7 L172.6 392.9 L173.7 390.1 L174.8 387.3 L175.8 384.5 L176.8 381.7 L177.9 378.9 L178.9 376.1 L179.9 373.2 L180.9 370.4 L181.9 367.6 L183.0 364.8 L184.1 362.0 L185.2 359.3 L186.4 356.5 L187.6 353.8 L188.9 351.1 L190.2 348.4 L191.6 345.7 L192.9 343.0 L194.1 340.2 L195.3 337.5 L196.6 334.8 L198.0 332.2 L199.5 329.6 L201.1 327.0 L202.7 324.5 L204.2 321.9 L205.8 319.3 L207.3 316.8 L208.9 314.2 L210.6 311.8 L212.5 309.5 L214.4 307.2 L216.4 304.9 L218.4 302.7 L220.5 300.6 L222.6 298.4 L224.8 296.4 L227.0 294.3 L229.3 292.4 L231.6 290.5 L234.0 288.7 L236.4 286.9 L238.9 285.3 L241.5 283.7 L244.1 282.1 L246.7 280.7 L249.4 279.3 L252.1 278.0 L254.8 276.8 L257.6 275.7 L260.4 274.7 L263.3 274.0 L266.2 273.4 L269.2 273.1 L272.2 272.8 L275.2 272.6 L278.3 272.5 L281.3 272.3 L284.3 272.1 L287.3 271.9 L290.2 271.8 L293.2 271.6 L296.2 271.5 L299.2 271.5 L302.2 271.5 L305.2 271.5 L308.2 271.6 L311.2 271.7 L314.2 271.9 L317.2 272.1 L320.2 272.2 L323.2 272.4 L326.2 272.6 L329.2 272.8 L332.1 273.0 L335.1 273.1 L338.1 273.3 L341.1 273.4 L344.1 273.6 L347.1 273.8 L350.1 274.0 L353.1 274.2 L356.1 274.5 L359.0 274.8 L362.0 275.1 L365.0 275.5 L368.0 275.8 L371.0 276.2 L373.9 276.5 L376.9 276.9 L379.9 277.2 L382.9 277.5 L385.9 277.7 L388.9 277.8 L391.9 278.0 L394.9 278.1 L397.9 278.1 L400.9 278.1 L403.8 278.1 L406.8 278.1 L409.8 278.1 L412.8 278.1 L415.8 278.0 L418.8 278.0 L421.8 278.0 L424.8 278.0 L427.8 277.9 L430.8 277.9 L433.8 277.9 L436.8 277.8 L439.8 277.8 L442.8 277.8 L445.8 277.7 L448.8 277.7 L451.8 277.7 L454.8 277.6 L457.8 277.6 L460.8 277.6 L463.8 277.5 L466.8 277.5 L469.8 277.5 L472.8 277.4 L475.8 277.4 L478.8 277.3 L481.8 277.3 L484.8 277.2 L487.8 277.2 L490.8 277.1 L493.8 277.1 L496.8 277.0 L499.8 276.9 L502.8 276.9 L505.8 276.8 L508.8 276.7 L511.8 276.7 L514.8 276.6 L517.8 276.5 L520.8 276.4 L523.8 276.3 L526.8 276.2 L529.7 276.1 L532.7 276.0 L535.7 275.9 L538.7 275.8 L541.7 275.7 L544.7 275.6 L547.7 275.5 L550.7 275.3 L553.7 275.2 L556.7 275.0 L559.7 274.9 L562.7 274.7 L565.7 274.6 L568.7 274.4 L571.7 274.2 L574.7 274.0 L577.7 273.8 L580.6 273.6 L583.6 273.4 L586.6 273.2 L589.6 273.0 L592.6 272.8 L595.6 272.6 L598.6 272.3 L601.6 272.1 L604.6 271.9 L607.6 271.6 L610.6 271.4 L613.6 271.2 L616.6 271.0 L619.6 270.8 L622.6 270.6 L625.6 270.4 L628.6 270.2 L631.5 270.0 L634.5 269.8 L637.5 269.7 L640.5 269.5 L643.5 269.4 L646.5 269.2 L649.5 269.1 L652.5 269.0 L655.5 269.0 L658.5 268.9 L661.5 268.9 L664.5 268.9 L667.5 268.9 L670.4 268.9 L673.4 269.0 L676.4 269.0 L679.4 269.1 L682.4 269.3 L685.4 269.4 L688.4 269.6 L691.4 269.8 L694.3 270.1 L697.3 270.3 L700.3 270.6 L703.3 271.0 L706.3 271.3 L709.3 271.7 L712.2 272.1 L715.2 272.5 L718.2 273.0 L721.2 273.5 L724.1 273.9 L727.1 274.4 L730.1 275.0 L733.0 275.5 L736.0 276.0 L738.9 276.6 L741.9 277.2 L744.8 277.8 L747.8 278.3 L750.7 278.9 L753.6 279.5 L756.6 280.2 L759.5 280.8 L762.4 281.4 L765.3 282.1 L768.2 282.8 L771.1 283.4 L774.0 284.2 L776.9 284.9 L779.8 285.6 L782.7 286.4 L785.6 287.2 L788.5 288.0 L791.4 288.8 L794.3 289.6 L797.2 290.4 L800.1 291.2 L803.0 292.0 L805.9 292.7 L808.8 293.5 L811.7 294.2 L814.6 294.9 L817.6 295.6 L820.5 296.3 L823.4 297.0 L826.3 297.6 L829.2 298.3 L832.2 298.9 L835.1 299.6 L838.0 300.2 L841.0 300.8 L843.9 301.4 L846.8 302.1 L849.8 302.7 L852.7 303.3 L855.6 303.9 L858.6 304.5 L861.5 305.1 L864.4 305.7 L867.4 306.3 L870.3 307.0 L873.2 307.6 L876.2 308.2 L879.1 308.9 L882.0 309.5 L884.9 310.2 L887.9 310.8 L890.8 311.5 L893.7 312.2 L896.6 312.9 L899.5 313.6 L902.4 314.3 L905.3 315.1 L908.2 315.8 L911.1 316.6 L914.0 317.4 L916.9 318.2 L919.8 319.0 L922.7 319.9 L925.5 320.7 L928.4 321.6 L931.3 322.5 L934.1 323.4 L937.0 324.3 L939.8 325.3 L942.7 326.2 L945.5 327.1 L948.4 328.1 L951.2 329.1 L954.1 330.0 L956.9 331.0 L959.7 332.0 L962.6 333.0 L965.4 334.0 L968.2 334.9 L971.1 335.9 L973.9 336.9 L976.7 337.9 L979.6 338.9 L982.4 339.8 L985.2 340.8 L988.1 341.8 L990.9 342.7 L993.7 343.7 L996.6 344.6 L999.4 345.6 L1002.3 346.5 L1005.1 347.5 L1008.0 348.4 L1010.8 349.4 L1013.6 350.4 L1016.5 351.4 L1019.3 352.4 L1022.1 353.4 L1024.9 354.4 L1027.7 355.5 L1030.5 356.7 L1033.3 357.8 L1036.0 359.0 L1038.7 360.2 L1041.5 361.4 L1044.2 362.7 L1046.9 364.0 L1049.6 365.3 L1052.3 366.5 L1055.0 367.9 L1057.7 369.2 L1060.4 370.5 L1063.1 371.8 L1065.8 373.1 L1068.5 374.4 L1071.2 375.7 L1073.9 377.0 L1076.6 378.3 L1079.3 379.6 L1082.0 380.9 L1084.8 382.1 L1087.5 383.4 L1090.2 384.6 L1093.0 385.8 L1095.7 387.0 L1098.5 388.2 L1101.2 389.4 L1104.0 390.5 L1106.8 391.7 L1109.5 392.8 L1112.3 393.9 L1115.1 395.0 L1117.9 396.1 L1120.7 397.2 L1123.5 398.3 L1126.3 399.4 L1129.1 400.5 L1131.9 401.5 L1134.7 402.6 L1137.5 403.6 L1140.3 404.6 L1143.1 405.7 L1145.9 406.7 L1148.8 407.7 L1151.6 408.7 L1154.4 409.7 L1157.2 410.7 L1160.1 411.7 L1162.9 412.7 L1165.7 413.7 L1168.6 414.6 L1171.4 415.6 L1174.2 416.6 L1177.1 417.5 L1179.9 418.5 L1182.8 419.5 L1185.6 420.4 L1188.5 421.4 L1191.3 422.3 L1194.1 423.3 L1197.0 424.2 L1199.8 425.2 L1202.7 426.1 L1205.5 427.0 L1208.4 428.0 L1211.2 428.9 L1214.1 429.8 L1216.9 430.8 L1219.8 431.7 L1222.6 432.6 L1225.5 433.5 L1228.3 434.4 L1231.2 435.3 L1234.1 436.2 L1236.9 437.1 L1239.8 438.0 L1242.7 438.8 L1245.5 439.7 L1248.4 440.5 L1251.3 441.4 L1254.2 442.2 L1257.1 443.0 L1259.9 443.9 L1262.8 444.7 L1265.7 445.5 L1268.6 446.3 L1271.5 447.1 L1274.4 447.9 L1277.3 448.7 L1280.2 449.6 L1283.0 450.4 L1285.9 451.2 L1288.8 452.1 L1291.7 452.9 L1294.5 453.8 L1297.4 454.7 L1300.2 455.6 L1303.1 456.6 L1305.9 457.5 L1308.8 458.5 L1311.6 459.5 L1314.4 460.5 L1317.2 461.5 L1320.0 462.6 L1322.8 463.6 L1325.6 464.7 L1328.4 465.8 L1331.2 466.9 L1334.0 468.0 L1336.8 469.1 L1339.6 470.2 L1342.4 471.3 L1345.2 472.4 L1348.0 473.4 L1350.8 474.5 L1353.6 475.6 L1356.4 476.6 L1359.2 477.6 L1362.1 478.6 L1364.9 479.6 L1367.7 480.6 L1370.6 481.5 L1373.4 482.4 L1376.3 483.3 L1379.2 484.1 L1382.0 485.0 L1384.9 485.8 L1387.8 486.6 L1390.7 487.4 L1393.6 488.2 L1396.5 489.0 L1399.4 489.7 L1402.3 490.4 L1405.2 491.2 L1408.1 491.9 L1411.0 492.6 L1413.9 493.3 L1416.9 494.0 L1419.8 494.6 L1422.7 495.3 L1425.6 496.0 L1428.6 496.6 L1431.5 497.3 L1434.4 498.0 L1437.3 498.6 L1440.3 499.3 L1443.2 500.0 L1446.1 500.7 L1449.0 501.5 L1451.9 502.3 L1454.7 503.2 L1457.4 504.4 L1460.1 505.7 L1462.8 507.1 L1465.5 508.4 L1468.2 509.7 L1470.9 510.9 L1473.6 512.2 L1476.3 513.4 L1479.0 514.8 L1481.7 516.2 L1484.3 517.7 L1486.9 519.3 L1489.3 521.1 L1491.6 523.0 L1493.8 525.1 L1495.8 527.3 L1497.7 529.5 L1499.5 531.9 L1501.2 534.4 L1502.8 536.9 L1504.3 539.5 L1505.7 542.2 L1507.0 544.9 L1508.2 547.6 L1509.4 550.4 L1510.6 553.2 L1511.7 555.9 L1512.9 558.7 L1514.2 561.4 L1515.5 564.1 L1516.8 566.8 L1518.2 569.5 L1519.6 572.1 L1521.0 574.8 L1522.5 577.4 L1524.0 580.0 L1525.4 582.6 L1526.9 585.2 L1528.4 587.8 L1529.8 590.5 L1531.1 593.2 L1532.4 595.9 L1533.6 598.6 L1534.6 601.4 L1535.7 604.2 L1536.7 607.0 L1537.7 609.9 L1538.8 612.7 L1539.9 615.4 L1541.0 618.3 L1541.9 621.1 L1542.8 624.0 L1543.8 626.8 L1544.8 629.7 L1545.9 632.4 L1547.2 635.1 L1548.8 637.7 L1550.5 640.1 L1552.3 642.5 L1554.3 644.8 L1556.1 647.1 L1557.9 649.6 L1559.5 652.1 L1560.9 654.7 L1562.3 657.4 L1563.6 660.1 L1564.9 662.8" stroke="#0b0b74" stroke-width="3.1" fill="none" stroke-linejoin="round"/>
<circle cx="664" cy="268.3" r="5.2" fill="#0b0b74"/>
<circle cx="1007.5" cy="269" r="5.2" fill="#0e3b2e"/>
<circle cx="476" cy="332.3" r="2.3" fill="#0b0b74"/>
<circle cx="862.3" cy="395.5" r="2.3" fill="#0e3b2e"/>
<path d="M97.5 238V863" stroke="#0e3b2e" stroke-width="1" fill="none"/>
<path d="M1649.5 238V863" stroke="#16168a" stroke-width="1.3" stroke-dasharray="3 1" fill="none"/>
<path d="M97 862.5H1650" stroke="#000" stroke-width="1" fill="none"/>
<path d="M114.2 863v3M154.6 863v4M194.9 863v3M235.3 863v3M275.6 863v3M316.0 863v3M356.4 863v4M396.7 863v3M437.1 863v3M477.4 863v3M517.8 863v3M558.1 863v4M598.5 863v3M638.8 863v3M679.2 863v3M719.5 863v3M759.9 863v4M800.2 863v3M840.6 863v3M880.9 863v3M921.3 863v3M961.6 863v4M1002.0 863v3M1042.3 863v3M1082.7 863v3M1123.0 863v3M1163.4 863v4M1203.7 863v3M1244.0 863v3M1284.4 863v3M1324.8 863v3M1365.1 863v4M1405.5 863v3M1445.8 863v3M1486.2 863v3M1526.5 863v3M1566.8 863v4M1607.2 863v3M1647.5 863v3M1648.5 863v4" stroke="#000" stroke-width="2" fill="none"/>
<g class="a" font-size="22" fill="#0e3b2e" text-anchor="end">
<text x="96.6" y="872.8">0</text>
<text x="96.6" y="808.3">15</text>
<text x="96.6" y="743.9">30</text>
<text x="96.6" y="679.4">45</text>
<text x="96.6" y="615.0">60</text>
<text x="96.6" y="550.5">75</text>
<text x="96.6" y="486.0">90</text>
<text x="96.6" y="421.6">105</text>
<text x="96.6" y="357.1">120</text>
<text x="96.6" y="292.6">135</text>
</g>
<g class="a" font-size="22" fill="#0b0b74" text-anchor="middle">
<text x="1669.6" y="873.8">0</text>
<text x="1669.6" y="803.3">50</text>
<text x="1669.6" y="732.7">100</text>
<text x="1669.6" y="662.2">150</text>
<text x="1669.6" y="591.7">200</text>
<text x="1669.6" y="521.1">250</text>
<text x="1669.6" y="450.6">300</text>
<text x="1669.6" y="380.1">350</text>
<text x="1669.6" y="309.6">400</text>
</g>
<g class="a" font-size="22" fill="#111" text-anchor="middle">
<text x="154.1" y="889.7">1500</text>
<text x="355.9" y="889.7">2000</text>
<text x="557.6" y="889.7">2500</text>
<text x="759.4" y="889.7">3000</text>
<text x="961.1" y="889.7">3500</text>
<text x="1162.9" y="889.7">4000</text>
<text x="1364.6" y="889.7">4500</text>
<text x="1566" y="889.7">5000</text>
</g>
<text class="a" font-size="22" fill="#111" x="1588" y="889.7">RPM</text>
<text class="a" font-size="22" fill="#0e3b2e" transform="translate(54,447.6) rotate(-90)">Motor Leistung (KW)</text>
<text class="a" font-size="22" fill="#1a1a8c" transform="translate(1711,435.5) rotate(-90)">Drehmoment (N*m)</text>
<g class="a" font-size="22" text-anchor="middle">
<text x="656.4" y="260.1" fill="#0b0b74">420.49</text>
<text x="1000.7" y="260.1" fill="#0e3b2e">137.8</text>
<text x="468.8" y="326.7" fill="#0b0b74">375.16</text>
<text x="855.8" y="388.5" fill="#0e3b2e">108.3</text>
</g>
</g>
<g id="frame" shape-rendering="crispEdges" stroke="#000" fill="none">
<rect x="16.5" y="4.5" width="1699" height="1197" stroke-width="1"/>
<path d="M16 108.5H1716M16 234.5H1716M16 236.5H1716M16 901.5H1716M16 964.5H1716M877.5 108V234M877.5 901V1201" stroke-width="1"/>
<path d="M16 1068H877" stroke-width="2"/>
</g>
<path d="M877 1068.1H1716" stroke="#000" stroke-width="1.5" fill="none"/>
<text class="t b" x="28.4" y="126.7" textLength="84.6" lengthAdjust="spacingAndGlyphs" fill="#000">Testname</text>
<text class="t" x="27.7" y="147.0" textLength="49.2" lengthAdjust="spacingAndGlyphs" fill="#000">Kunde</text>
<text class="t" x="27.7" y="167.5" textLength="47.3" lengthAdjust="spacingAndGlyphs" fill="#000">Marke</text>
<text class="t" x="27.7" y="187.8" textLength="50.5" lengthAdjust="spacingAndGlyphs" fill="#000">Modell</text>
<text class="t" x="27.7" y="208.3" textLength="24.4" lengthAdjust="spacingAndGlyphs" fill="#000">Kz.</text>
<text class="t b" x="28.7" y="228.7" textLength="100.9" lengthAdjust="spacingAndGlyphs" fill="#000">Datum/Zeit</text>
<text class="t" x="319.9" y="167.5" textLength="39.8" lengthAdjust="spacingAndGlyphs" fill="#000">OPEL</text>
<text class="t" x="321.0" y="187.8" textLength="58.8" lengthAdjust="spacingAndGlyphs" fill="#000">Insignia</text>
<text class="t b" x="877.4" y="126.7" textLength="84.6" lengthAdjust="spacingAndGlyphs" fill="#000">Testname</text>
<text class="t" x="876.7" y="147.0" textLength="49.2" lengthAdjust="spacingAndGlyphs" fill="#000">Kunde</text>
<text class="t" x="876.7" y="167.5" textLength="47.3" lengthAdjust="spacingAndGlyphs" fill="#000">Marke</text>
<text class="t" x="876.7" y="187.8" textLength="50.5" lengthAdjust="spacingAndGlyphs" fill="#000">Modell</text>
<text class="t" x="876.7" y="208.3" textLength="24.4" lengthAdjust="spacingAndGlyphs" fill="#000">Kz.</text>
<text class="t b" x="877.7" y="228.7" textLength="100.9" lengthAdjust="spacingAndGlyphs" fill="#000">Datum/Zeit</text>
<text class="t" x="1168.9" y="167.5" textLength="39.8" lengthAdjust="spacingAndGlyphs" fill="#000">OPEL</text>
<text class="t" x="1170.0" y="187.8" textLength="58.8" lengthAdjust="spacingAndGlyphs" fill="#000">Insignia</text>
<text class="t b" x="28.4" y="919.8" textLength="161.0" lengthAdjust="spacingAndGlyphs" fill="#2e080c">Leistung am Motor</text>
<text class="t b" x="28.4" y="939.9" textLength="148.6" lengthAdjust="spacingAndGlyphs" fill="#2e080c">Torque At Engine</text>
<text class="t" x="28.0" y="981.3" textLength="89.4" lengthAdjust="spacingAndGlyphs" fill="#2e080c">Temperatur</text>
<text class="t" x="27.4" y="1002.5" textLength="113.9" lengthAdjust="spacingAndGlyphs" fill="#2e080c">Luftfeucht.(%)</text>
<text class="t" x="27.4" y="1022.7" textLength="72.6" lengthAdjust="spacingAndGlyphs" fill="#2e080c">Luftdruck</text>
<text class="t" x="28.0" y="1043.9" textLength="120.4" lengthAdjust="spacingAndGlyphs" fill="#2e080c">Wetterkorrektur</text>
<text class="t b" x="28.4" y="1063.6" textLength="127.9" lengthAdjust="spacingAndGlyphs" fill="#2e080c">Korrekturnorm</text>
<text class="t" x="27.6" y="1085.6" textLength="109.5" lengthAdjust="spacingAndGlyphs" fill="#2e080c">SportDyno SW</text>
<text class="t" x="27.6" y="1106.4" textLength="81.7" lengthAdjust="spacingAndGlyphs" fill="#2e080c">Übs.Faktor</text>
<text class="t b" x="349.5" y="919.8" textLength="82.5" lengthAdjust="spacingAndGlyphs" fill="#2e080c">137.8 KW</text>
<text class="t b" x="349.5" y="939.9" textLength="104.7" lengthAdjust="spacingAndGlyphs" fill="#2e080c">420.49 N*m</text>
<text class="t" x="348.6" y="960.2" textLength="25.4" lengthAdjust="spacingAndGlyphs" fill="#2e080c">KW</text>
<text class="t" x="349.0" y="981.3" textLength="34.0" lengthAdjust="spacingAndGlyphs" fill="#2e080c">6 ºC</text>
<text class="t" x="349.5" y="1002.5" textLength="50.5" lengthAdjust="spacingAndGlyphs" fill="#2e080c">100 %</text>
<text class="t" x="349.5" y="1022.7" textLength="80.6" lengthAdjust="spacingAndGlyphs" fill="#2e080c">1018 mbar</text>
<text class="t" x="348.6" y="1043.9" textLength="115.3" lengthAdjust="spacingAndGlyphs" fill="#2e080c">EWG 80 / 1269</text>
<text class="t b" x="349.0" y="1063.6" textLength="49.7" lengthAdjust="spacingAndGlyphs" fill="#2e080c">0.976</text>
<text class="t" x="349.0" y="1085.6" textLength="168.2" lengthAdjust="spacingAndGlyphs" fill="#2e080c">4.1.68 (19-MAY-2023)</text>
<text class="t" x="349.5" y="1106.4" textLength="42.4" lengthAdjust="spacingAndGlyphs" fill="#2e080c">2.514</text>
<text class="t b" x="570.2" y="919.8" textLength="85.6" lengthAdjust="spacingAndGlyphs" fill="#2e080c">3613 RPM</text>
<text class="t b" x="570.2" y="939.9" textLength="85.6" lengthAdjust="spacingAndGlyphs" fill="#2e080c">2763 RPM</text>
<text class="t b" x="877.4" y="919.8" textLength="161.0" lengthAdjust="spacingAndGlyphs" fill="#1a1008">Leistung am Motor</text>
<text class="t b" x="877.4" y="939.9" textLength="148.6" lengthAdjust="spacingAndGlyphs" fill="#1a1008">Torque At Engine</text>
<text class="t" x="877.0" y="981.3" textLength="89.4" lengthAdjust="spacingAndGlyphs" fill="#1a1008">Temperatur</text>
<text class="t" x="876.4" y="1002.5" textLength="113.9" lengthAdjust="spacingAndGlyphs" fill="#1a1008">Luftfeucht.(%)</text>
<text class="t" x="876.4" y="1022.7" textLength="72.6" lengthAdjust="spacingAndGlyphs" fill="#1a1008">Luftdruck</text>
<text class="t" x="877.0" y="1043.9" textLength="120.4" lengthAdjust="spacingAndGlyphs" fill="#1a1008">Wetterkorrektur</text>
<text class="t b" x="877.4" y="1063.6" textLength="127.9" lengthAdjust="spacingAndGlyphs" fill="#1a1008">Korrekturnorm</text>
<text class="t" x="876.6" y="1085.6" textLength="109.5" lengthAdjust="spacingAndGlyphs" fill="#1a1008">SportDyno SW</text>
<text class="t" x="876.6" y="1106.4" textLength="81.7" lengthAdjust="spacingAndGlyphs" fill="#1a1008">Übs.Faktor</text>
<text class="t b" x="1198.5" y="919.8" textLength="82.5" lengthAdjust="spacingAndGlyphs" fill="#1a1008">108.3 KW</text>
<text class="t b" x="1198.5" y="939.9" textLength="104.7" lengthAdjust="spacingAndGlyphs" fill="#1a1008">375.16 N*m</text>
<text class="t" x="1197.6" y="960.2" textLength="25.4" lengthAdjust="spacingAndGlyphs" fill="#1a1008">KW</text>
<text class="t" x="1198.0" y="981.3" textLength="34.0" lengthAdjust="spacingAndGlyphs" fill="#1a1008">6 ºC</text>
<text class="t" x="1198.5" y="1002.5" textLength="50.5" lengthAdjust="spacingAndGlyphs" fill="#1a1008">100 %</text>
<text class="t" x="1198.5" y="1022.7" textLength="80.6" lengthAdjust="spacingAndGlyphs" fill="#1a1008">1018 mbar</text>
<text class="t" x="1197.6" y="1043.9" textLength="115.3" lengthAdjust="spacingAndGlyphs" fill="#1a1008">EWG 80 / 1269</text>
<text class="t b" x="1198.0" y="1063.6" textLength="49.7" lengthAdjust="spacingAndGlyphs" fill="#1a1008">0.976</text>
<text class="t" x="1198.0" y="1085.6" textLength="168.2" lengthAdjust="spacingAndGlyphs" fill="#1a1008">4.1.68 (19-MAY-2023)</text>
<text class="t" x="1198.5" y="1106.4" textLength="42.4" lengthAdjust="spacingAndGlyphs" fill="#1a1008">2.514</text>
<text class="t b" x="1419.2" y="919.8" textLength="85.6" lengthAdjust="spacingAndGlyphs" fill="#1a1008">3255 RPM</text>
<text class="t b" x="1419.2" y="939.9" textLength="85.6" lengthAdjust="spacingAndGlyphs" fill="#1a1008">2295 RPM</text>
<g id="logo1">
<defs><filter id="fat" x="-5%" y="-10%" width="110%" height="120%"><feOffset in="SourceGraphic" dx="-2.4" result="a"/><feOffset in="SourceGraphic" dx="-1.2" result="b"/><feOffset in="SourceGraphic" dx="1.2" result="c"/><feOffset in="SourceGraphic" dx="2.4" result="d"/><feMerge><feMergeNode in="a"/><feMergeNode in="b"/><feMergeNode in="SourceGraphic"/><feMergeNode in="c"/><feMergeNode in="d"/></feMerge></filter></defs>
<g filter="url(#fat)"><g transform="translate(0,47.6) skewX(-12.3) scale(0.460,1)"><text y="0" x="133.3 183.7 237.6 285.9 342.6 392.2 442.0 472.6 526.5 578.7 632.8 687.4 717.4 777.6 833.5 860.9 913.9 966.5" font-family="'Liberation Sans','DejaVu Sans',sans-serif" font-weight="bold" font-size="48.3" fill="#1c1a1b">PRO<tspan textLength="39" lengthAdjust="spacingAndGlyphs">-</tspan>CHIPTU<tspan textLength="43" lengthAdjust="spacingAndGlyphs">N</tspan>I<tspan textLength="43" lengthAdjust="spacingAndGlyphs">N</tspan>G.CO<tspan textLength="58" lengthAdjust="spacingAndGlyphs">M</tspan></text></g></g>
<path d="M57.8 56.0L63.8 56.0L61.0 67.8L55.0 67.8ZM69.4 56.0L75.6 56.0L72.8 67.8L66.6 67.8ZM81.9 56.0L90.4 56.0L87.6 67.8L79.1 67.8ZM98.8 56.0L108.6 56.0L105.8 67.8L96.0 67.8ZM118.0 56.0L128.7 56.0L125.9 67.8L115.2 67.8ZM137.7 56.0L147.5 56.0L144.7 67.8L134.9 67.8ZM158.4 56.0L167.2 56.0L164.4 67.8L155.6 67.8ZM178.2 56.0L188.9 56.0L186.1 67.8L175.4 67.8ZM61.0 67.8L66.6 67.8L63.9 79.5L58.3 79.5ZM72.8 67.8L79.1 67.8L76.4 79.5L70.1 79.5ZM87.6 67.8L96.0 67.8L93.3 79.5L84.9 79.5ZM105.8 67.8L115.2 67.8L112.5 79.5L103.1 79.5ZM125.9 67.8L134.9 67.8L132.2 79.5L123.2 79.5ZM144.7 67.8L155.6 67.8L152.9 79.5L142.0 79.5ZM164.4 67.8L175.4 67.8L172.7 79.5L161.7 79.5ZM186.1 67.8L194.2 67.8L191.5 79.5L183.4 79.5ZM197.0 56.0L438.0 56.0L432.5 79.5L191.5 79.5ZM440.7 56.0L450.5 56.0L445.0 79.5L435.2 79.5ZM455.4 56.0L464.4 56.0L458.9 79.5L449.9 79.5ZM468.6 56.0L476.0 56.0L470.5 79.5L463.1 79.5Z" fill="#1c1a1b"/>
<rect x="223.4" y="55.9" width="29.4" height="23.8" rx="5.5" ry="5.5" fill="#1c1a1b" stroke="#fff" stroke-width="1.3"/>
<g stroke="#fff" stroke-width="0.9" fill="none" stroke-linecap="round">
<path d="M231.5 56.5v5l-3 3v1M235 56.5v8M238.3 56.5v3.5M241.5 56.5v9l2 2M245 56.5v5l3 3v1M230 79v-5l-2-2v-1M234 79v-4.5l-2.5-2.5M238.3 79v-7M242.5 79v-4l3-3M246.5 79v-6l2-2"/>
<circle cx="228.5" cy="67.2" r="1.15" fill="#1c1a1b"/>
<circle cx="235.0" cy="66.2" r="1.15" fill="#1c1a1b"/>
<circle cx="238.3" cy="61.7" r="1.15" fill="#1c1a1b"/>
<circle cx="243.9" cy="68.5" r="1.15" fill="#1c1a1b"/>
<circle cx="248.0" cy="67.2" r="1.15" fill="#1c1a1b"/>
<circle cx="228.0" cy="69.3" r="1.15" fill="#1c1a1b"/>
<circle cx="231.0" cy="70.6" r="1.15" fill="#1c1a1b"/>
<circle cx="238.3" cy="70.3" r="1.15" fill="#1c1a1b"/>
<circle cx="246.0" cy="70.3" r="1.15" fill="#1c1a1b"/>
<circle cx="249.0" cy="69.5" r="1.15" fill="#1c1a1b"/>
</g>
<text x="262.5" y="72" font-family="'Liberation Sans','DejaVu Sans',sans-serif" font-weight="bold" font-style="italic" font-size="10.4" textLength="160.5" lengthAdjust="spacingAndGlyphs" fill="#fff" stroke="#fff" stroke-width="0.5">AUTOMOTIVE SOFTWARE ENGINEERING</text>
<text x="56" y="94.9" font-family="'Liberation Sans','DejaVu Sans',sans-serif" font-weight="bold" font-style="italic" font-size="13.3" textLength="412" lengthAdjust="spacingAndGlyphs" fill="#1c1a1b" stroke="#1c1a1b" stroke-width="0.4">ALBERT-EINSTEIN-STR. 17 - 23701 EUTIN • F/WHATSAPP: 0179 / 431 366 4</text>
</g>
<g id="logo2" fill="#6b6b6b" font-family="'Liberation Sans','DejaVu Sans',sans-serif" font-weight="bold" font-style="italic">
<path d="M526 30.5H756.5L761 35V76L756.5 80.5H526L521.5 76V35Z" fill="none" stroke="#6b6b6b" stroke-width="2.6" stroke-linejoin="round"/>
<text x="525.5" y="58.5" font-size="26" textLength="79" lengthAdjust="spacingAndGlyphs" stroke="#6b6b6b" stroke-width="1.2">DYNO</text>
<text x="604" y="59.5" font-size="34.5" textLength="152" lengthAdjust="spacingAndGlyphs" stroke="#6b6b6b" stroke-width="1.6">MASTER</text>
<text x="587" y="76.5" font-size="20.5" textLength="116" lengthAdjust="spacingAndGlyphs" stroke="#6b6b6b" stroke-width="1.1" font-weight="normal">AWD 6400</text>
</g>
</svg></body></html>
